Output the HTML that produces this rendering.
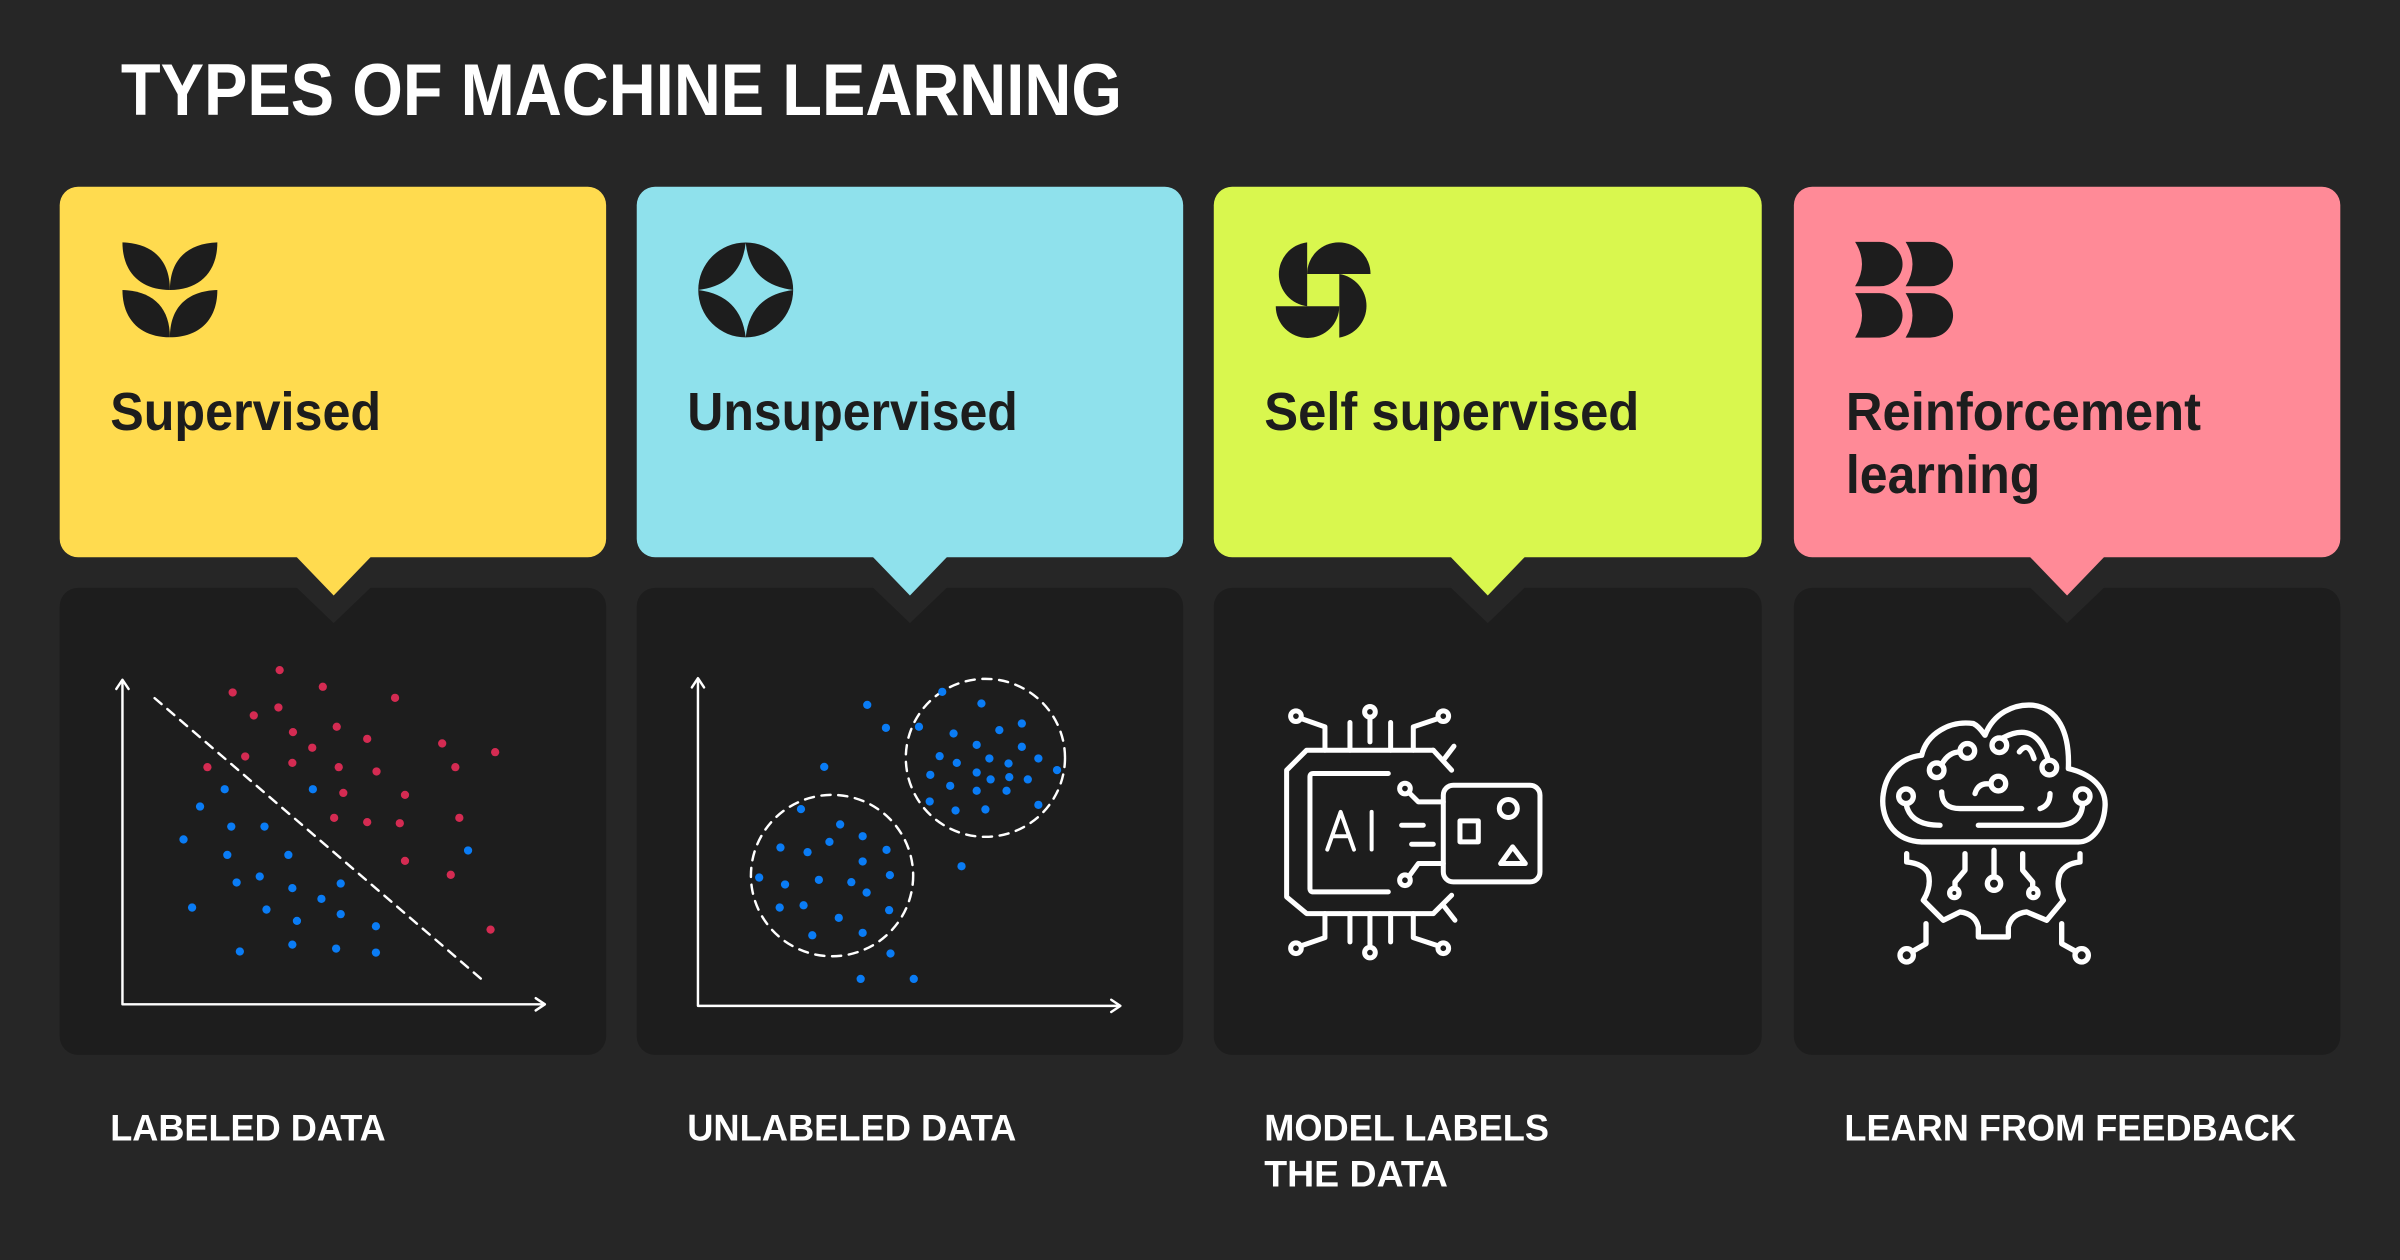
<!DOCTYPE html>
<html><head><meta charset="utf-8">
<style>
html,body{margin:0;padding:0;background:#262626;}
svg{display:block;}
text{font-family:"Liberation Sans",sans-serif;font-weight:bold;}
</style></head>
<body>
<svg id="s" width="2400" height="1260" viewBox="0 0 1568 823" preserveAspectRatio="none" xmlns="http://www.w3.org/2000/svg">
<rect width="1568" height="823" fill="#262626"/>
<text x="79" y="75" font-size="48" fill="#fff" textLength="654" lengthAdjust="spacingAndGlyphs">TYPES OF MACHINE LEARNING</text>

<g>
<rect x="39" y="384" width="357" height="305" rx="12" fill="#1d1d1d"/>
<rect x="416" y="384" width="357" height="305" rx="12" fill="#1d1d1d"/>
<rect x="793" y="384" width="358" height="305" rx="12" fill="#1d1d1d"/>
<rect x="1172" y="384" width="357" height="305" rx="12" fill="#1d1d1d"/>
<polygon points="193,383 243,383 218,407" fill="#262626"/>
<polygon points="569.5,383 619.5,383 594.5,407" fill="#262626"/>
<polygon points="947,383 997,383 972,407" fill="#262626"/>
<polygon points="1325.5,383 1375.5,383 1350.5,407" fill="#262626"/>

<rect x="39" y="122" width="357" height="242" rx="12" fill="#FFDB4F"/>
<polygon points="193,363 243,363 218,389" fill="#FFDB4F"/>
<rect x="416" y="122" width="357" height="242" rx="12" fill="#8FE1EC"/>
<polygon points="569.5,363 619.5,363 594.5,389" fill="#8FE1EC"/>
<rect x="793" y="122" width="358" height="242" rx="12" fill="#D9F74E"/>
<polygon points="947,363 997,363 972,389" fill="#D9F74E"/>
<rect x="1172" y="122" width="357" height="242" rx="12" fill="#FF8A97"/>
<polygon points="1325.5,363 1375.5,363 1350.5,389" fill="#FF8A97"/>
</g>

<g fill="#1d1d1d">
<path d="M80,158.3 C80,178 92,189.4 111,189.4 C111,170 100,159 80,158.3Z"/>
<path d="M142,158.3 C142,178 130,189.4 111,189.4 C111,170 122,159 142,158.3Z"/>
<path d="M80,189.4 C80,209 92,220.3 111,220.3 C111,201 100,190 80,189.4Z"/>
<path d="M142,189.4 C142,209 130,220.3 111,220.3 C111,201 122,190 142,189.4Z"/>
<ellipse cx="487.2" cy="189.4" rx="31" ry="31"/>
<path d="M487.2,158.6 Q490,186 518.2,189.4 Q490,193 487.2,220.4 Q484,193 456.2,189.4 Q484,186 487.2,158.6Z" fill="#8FE1EC"/>
<path d="M854,158.3 A21,21 0 0 0 854,200 Z"/>
<path d="M854,179 A20.7,20.7 0 0 1 895.4,179 Z"/>
<path d="M875,179 A21,21 0 0 1 875,220.5 Z"/>
<path d="M833.5,200 A20.7,20.7 0 0 0 875,200 Z"/>
<path d="M1212,158 L1228,158 A15,14.5 0 0 1 1228,187 L1212,187 Q1221,172.5 1212,158Z"/>
<path d="M1245,158 L1261,158 A15,14.5 0 0 1 1261,187 L1245,187 Q1254,172.5 1245,158Z"/>
<path d="M1212,191.5 L1228,191.5 A15,14.5 0 0 1 1228,220.5 L1212,220.5 Q1221,206 1212,191.5Z"/>
<path d="M1245,191.5 L1261,191.5 A15,14.5 0 0 1 1261,220.5 L1245,220.5 Q1254,206 1245,191.5Z"/>
</g>

<g fill="#1d1d1d" font-size="35">
<text x="72" y="281" textLength="177" lengthAdjust="spacingAndGlyphs">Supervised</text>
<text x="449" y="281" textLength="216" lengthAdjust="spacingAndGlyphs">Unsupervised</text>
<text x="826" y="281" textLength="245" lengthAdjust="spacingAndGlyphs">Self supervised</text>
<text x="1206" y="281" textLength="232" lengthAdjust="spacingAndGlyphs">Reinforcement</text>
<text x="1206" y="322" textLength="127" lengthAdjust="spacingAndGlyphs">learning</text>
</g>

<g fill="#fff" font-size="24">
<text x="72" y="745" textLength="180" lengthAdjust="spacingAndGlyphs">LABELED DATA</text>
<text x="449" y="745" textLength="215" lengthAdjust="spacingAndGlyphs">UNLABELED DATA</text>
<text x="826" y="745" textLength="186" lengthAdjust="spacingAndGlyphs">MODEL LABELS</text>
<text x="826" y="775" textLength="120" lengthAdjust="spacingAndGlyphs">THE DATA</text>
<text x="1205" y="745" textLength="295" lengthAdjust="spacingAndGlyphs">LEARN FROM FEEDBACK</text>
</g>

<g stroke="#fff" stroke-width="1.6" fill="none" stroke-linecap="round" stroke-linejoin="round">
<path d="M80,445 L80,656 L355,656"/>
<path d="M76,450 L80,444 L84,450"/>
<path d="M350,652 L356,656 L350,660"/>
<path d="M101,456 L316.6,641.3" stroke-dasharray="6,5"/>
<path d="M456,444 L456,657 L731,657"/>
<path d="M452,449 L456,443 L460,449"/>
<path d="M726,653 L732,657 L726,661"/>
<ellipse cx="643.8" cy="495" rx="52" ry="51.6" stroke-dasharray="6,5"/>
<ellipse cx="543.6" cy="571.9" rx="53" ry="52.7" stroke-dasharray="6,5"/>
</g>
<g id="dots"></g>

<g transform="translate(829.7,450.8) scale(0.2178)" stroke="#fff" stroke-width="15" fill="none" stroke-linecap="round" stroke-linejoin="round">
<path d="M490,180 L110,180 L50,240 L50,620 L110,670 L490,670"/>
<path d="M490,180 L545,240 M520,210 L552,168"/>
<path d="M490,670 L545,615 M520,645 L555,690"/>
<path d="M355,250 L130,250 Q120,250 120,260 L120,595 Q120,605 130,605 L355,605"/>
<path d="M172,478 L212,365 L252,478 M187,438 L237,438 M305,365 L305,478" stroke-width="12"/>
<path d="M395,405 L460,405 M425,462 L490,462"/>
<rect x="520" y="285" width="290" height="290" rx="30"/>
<circle cx="715" cy="355" r="27"/>
<rect x="570" y="392" width="55" height="63"/>
<path d="M728,470 L692,520 L766,520Z"/>
<circle cx="405" cy="295" r="16"/><path d="M418,308 L445,335 L520,335"/>
<circle cx="405" cy="570" r="16"/><path d="M418,557 L445,520 L520,520"/>
<g>
<circle cx="78" cy="78" r="16"/><path d="M93,85 L165,110 L165,180"/>
<circle cx="300" cy="65" r="16"/><path d="M300,82 L300,155"/>
<path d="M240,97 L240,180 M362,97 L362,180"/>
<circle cx="520" cy="78" r="16"/><path d="M505,85 L430,110 L430,180"/>
</g>
<g transform="translate(0,852) scale(1,-1)">
<circle cx="78" cy="78" r="16"/><path d="M93,85 L165,110 L165,182"/>
<circle cx="300" cy="65" r="16"/><path d="M300,82 L300,182"/>
<path d="M240,97 L240,182 M362,97 L362,182"/>
<circle cx="520" cy="78" r="16"/><path d="M505,85 L430,110 L430,182"/>
</g>
</g>

<g transform="translate(1215.2,444.3) scale(0.2178)" stroke="#fff" stroke-width="16" fill="none" stroke-linecap="round" stroke-linejoin="round">
<path d="M185,485 C90,480 60,400 70,340 C80,270 130,230 185,225 C200,160 270,120 340,130 C360,140 370,160 375,165 C400,100 460,70 520,75 C590,85 630,150 625,265 C690,280 740,320 735,380 C730,450 690,485 655,485 Z"/>
<circle cx="138" cy="348" r="22"/><path d="M138,370 Q150,435 240,435"/>
<path d="M355,435 L600,435 Q665,430 668,370"/><circle cx="668" cy="348" r="22"/>
<path d="M245,335 Q245,385 300,385 L485,385"/>
<circle cx="230" cy="270" r="22"/><path d="M245,253 Q265,215 300,215"/><circle cx="322" cy="212" r="22"/>
<circle cx="418" cy="195" r="22"/><path d="M430,172 Q530,120 565,240"/><circle cx="568" cy="262" r="22"/>
<path d="M478,215 Q505,180 522,235"/>
<circle cx="415" cy="310" r="22"/><path d="M393,312 Q355,305 345,340"/>
<path d="M570,340 Q570,375 540,385"/>
<path d="M140,520 L140,545 Q190,550 205,580 Q215,620 190,660 L250,720 L300,695 Q345,700 355,740 L355,770 L445,770 L445,740 Q455,700 500,695 L560,720 L610,660 Q585,620 600,580 Q615,550 660,545 L660,520"/>
<path d="M315,520 L315,570 L285,605 L285,624"/><circle cx="283" cy="638" r="14"/>
<path d="M402,510 L402,590"/><circle cx="402" cy="610" r="20"/>
<path d="M488,520 L488,570 L518,605 L518,624"/><circle cx="520" cy="638" r="14"/>
<path d="M198,730 L198,790 L160,812"/><circle cx="140" cy="825" r="20"/>
<path d="M605,730 L605,790 L645,812"/><circle cx="665" cy="825" r="20"/>
</g>
</svg>
<script>
(function(){
var red=[[271,90],[336,140],[200,157],[445,173],[269,202],[232,226],[291,276],[357,260],[403,296],[516,310],[596,336],[320,323],[219,349],[162,381],[290,368],[360,381],[417,394],[536,381],[367,458],[460,464],[353,533],[403,546],[452,549],[542,533],[460,662],[529,704],[589,868]];
var blue=[[188,447],[321,447],[151,499],[198,559],[248,559],[126,598],[192,644],[284,644],[555,631],[206,727],[241,709],[290,744],[363,730],[334,776],[139,802],[251,808],[297,842],[363,822],[416,858],[211,934],[290,913],[356,925],[416,937],
[1270,155],[1157,194],[1329,190],[1185,263],[1235,260],[1287,280],[1356,270],[1390,250],[1322,314],[1390,320],[1092,380],[1266,348],[1292,368],[1341,355],[1370,370],[1415,355],[1443,390],[1252,404],[1282,437],[1322,397],[1343,418],[1371,411],[1399,418],[1322,452],[1367,452],[1251,484],[1290,511],[1335,508],[1415,494],[1057,507],[1116,553],[1150,588],[1100,605],[1026,622],[1067,636],[1186,629],[1150,664],[1299,678],[994,712],[1033,733],[1084,719],[1133,726],[1191,705],[1156,757],[1025,802],[1061,795],[1190,810],[1114,833],[1074,885],[1150,878],[1192,940],[1147,1016],[1227,1016]];
var g=document.getElementById('dots'),ns='http://www.w3.org/2000/svg';
function add(p,c){p.forEach(function(q){var e=document.createElementNS(ns,'circle');e.setAttribute('cx',(q[0]*0.4333+65.3).toFixed(1));e.setAttribute('cy',(q[1]*0.2178+418.1).toFixed(1));e.setAttribute('r','2.7');e.setAttribute('fill',c);g.appendChild(e);});}
add(red,'#D42B52');add(blue,'#0A7CF5');
})();
</script>
</body></html>
